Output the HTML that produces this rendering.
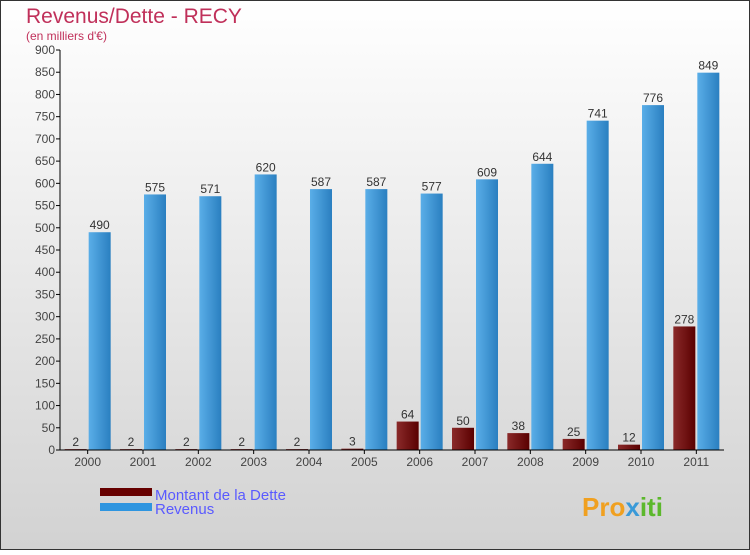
<!DOCTYPE html>
<html><head><meta charset="utf-8"><style>
body{margin:0}
svg text{font-family:"Liberation Sans",sans-serif}
</style></head><body>
<svg id="c" width="750" height="550" xmlns="http://www.w3.org/2000/svg">
<defs>
<linearGradient id="bg" x1="0" y1="0" x2="0" y2="1"><stop offset="0" stop-color="#ffffff"/><stop offset="1" stop-color="#d2d2d2"/></linearGradient>
<linearGradient id="gb" x1="0" y1="0" x2="1" y2="0"><stop offset="0" stop-color="#5aaee8"/><stop offset="1" stop-color="#2a7fc0"/></linearGradient>
<linearGradient id="gd" x1="0" y1="0" x2="1" y2="0"><stop offset="0" stop-color="#8a2a2a"/><stop offset="1" stop-color="#5a0000"/></linearGradient>
</defs>
<rect x="0.5" y="0.5" width="749" height="549" fill="url(#bg)" stroke="#333"/>
<text x="26" y="23" font-size="21" fill="#c0305a">Revenus/Dette - RECY</text>
<text x="26" y="40" font-size="12" fill="#c0305a">(en milliers d'€)</text>
<g id="plot"></g>
<rect x="100" y="488" width="52" height="8" fill="#660000"/>
<rect x="100" y="503" width="52" height="8" fill="#2e95e0"/>
<text x="155" y="500" font-size="15" fill="#5a5aff">Montant de la Dette</text>
<text x="155" y="514" font-size="15" fill="#5a5aff">Revenus</text>
<text x="582" y="516" font-size="26" font-weight="bold" fill="#f0a020">Pro<tspan fill="#3a9ad8">x</tspan><tspan fill="#5cb82c">iti</tspan></text>
</svg>
<script>
const years=["2000","2001","2002","2003","2004","2005","2006","2007","2008","2009","2010","2011"];
const dette=[2,2,2,2,2,3,64,50,38,25,12,278];
const revenus=[490,575,571,620,587,587,577,609,644,741,776,849];
const yTicks=[0,50,100,150,200,250,300,350,400,450,500,550,600,650,700,750,800,850,900];
const NS="http://www.w3.org/2000/svg";
const g=document.getElementById("plot");
const x0=60,x1=724,y0=450,yTop=50,ymax=900;
const band=(x1-x0)/years.length;
const y=v=>y0-(v/ymax)*(y0-yTop);
const xc=i=>x0+band*(i+0.5);
function mk(t,a){const e=document.createElementNS(NS,t);for(const k in a)e.setAttribute(k,a[k]);g.appendChild(e);return e;}
yTicks.forEach(v=>{
 const l=mk("line",{x1:x0-4,x2:x0,y1:y(v),y2:y(v),stroke:"#000"});
 
 
 const t=mk("text",{x:x0-5,y:y(v)+4,"font-size":12,"text-anchor":"end",fill:"#444"});t.textContent=v;
 
 
});
years.forEach((yr,i)=>{
 const c=xc(i),w=22;
 const hd=y0-y(dette[i]);
 const bd=mk("rect",{x:c-w-1,y:y(dette[i]),width:w,height:hd,fill:"url(#gd)"});
 
 
 const br=mk("rect",{x:c+1,y:y(revenus[i]),width:w,height:y0-y(revenus[i]),fill:"url(#gb)"});
 
 
 const td=mk("text",{x:c-w/2-1,y:y(dette[i])-3,"font-size":12,"text-anchor":"middle",fill:"#333"});td.textContent=dette[i];
 
 
 const tr=mk("text",{x:c+w/2+1,y:y(revenus[i])-3,"font-size":12,"text-anchor":"middle",fill:"#333"});tr.textContent=revenus[i];
 
 
 const tk=mk("line",{x1:c,x2:c,y1:y0,y2:y0+4,stroke:"#000"});
 
 
 const tx=mk("text",{x:c,y:y0+16,"font-size":12,"text-anchor":"middle",fill:"#444"});tx.textContent=yr;
 
 
});
const ax=mk("line",{x1:x0,x2:x0,y1:yTop,y2:y0,stroke:"#000"});


const bx=mk("line",{x1:x0,x2:x1,y1:y0,y2:y0,stroke:"#000"});


</script>
</body></html>
